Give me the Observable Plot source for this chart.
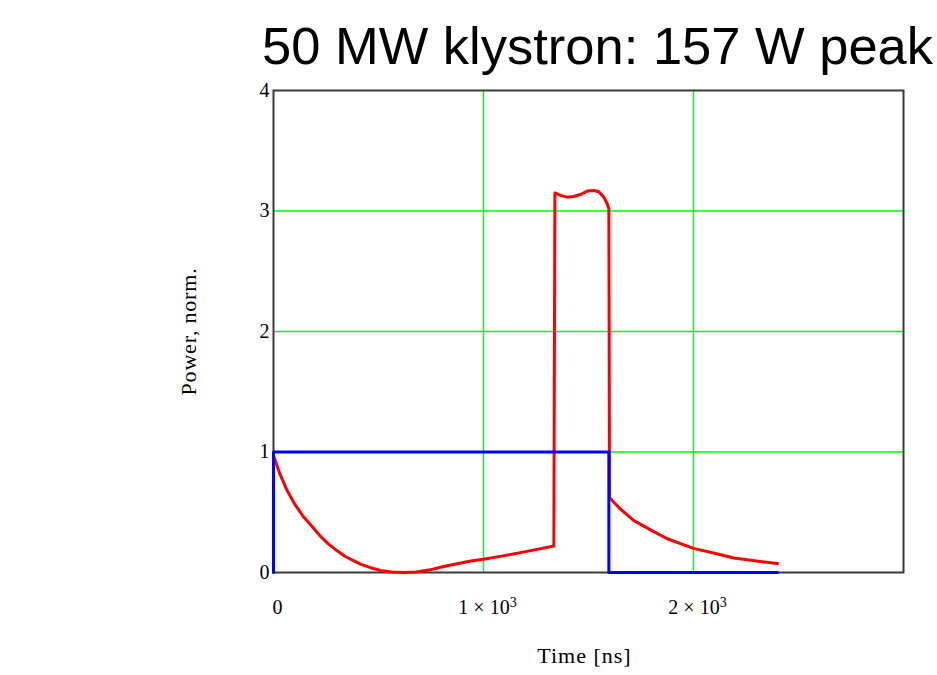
<!DOCTYPE html>
<html><head><meta charset="utf-8">
<script src="https://cdn.jsdelivr.net/npm/d3@7"></script>
<script src="https://cdn.jsdelivr.net/npm/@observablehq/plot@0.6"></script>
<style>
body{margin:0;background:#fff;width:937px;height:675px;overflow:hidden;position:relative}
#title{position:absolute;left:262px;top:20px;font-family:"Liberation Sans",Arial,sans-serif;font-size:52.5px;line-height:52px;white-space:nowrap;color:#000}
#chart{position:absolute;left:0;top:80px}
</style></head><body>
<div id="title">50 MW klystron: 157 W peak</div>
<div id="chart"></div>
<script>
// Red trace: reflected / output power (normalized)
const redTime  = [0,30,65,100,144,190,224,260,303,340,383,420,462,510,560,620,680,740,800,850,940,1000,1100,1250,1335,
                  1340,1367,1398,1430,1462,1494,1525,1549,1573,1589,1597,
                  1600,1650,1716,1800,1875,2000,2100,2192,2300,2400];
const redPower = [0.97,0.82,0.68,0.57,0.46,0.37,0.30,0.24,0.18,0.135,0.097,0.065,0.04,0.017,0.004,0,0.004,0.02,0.045,0.065,0.095,0.11,0.14,0.19,0.22,
                  3.15,3.13,3.115,3.12,3.137,3.165,3.17,3.16,3.115,3.06,3.02,
                  0.62,0.53,0.43,0.35,0.28,0.20,0.16,0.12,0.095,0.075];
// Blue trace: klystron input pulse
const blueTime  = [0,0,1597,1597,2400];
const bluePower = [0,1,1,0,0];

const xTicks = [0,1000,2000];
const xTickLabels = ["0","1×10³","2×10³"];
const yTicks = [0,1,2,3,4];
const xGrid = [1000,2000];
const yGrid = [1,2,3];
const xLabel = "Time [ns]";
const yLabel = "Power, norm.";

const red = redTime.map((t,i)=>({t, p: redPower[i]}));
const blue = blueTime.map((t,i)=>({t, p: bluePower[i]}));
const xFmt = new Map(xTicks.map((d,i)=>[d, xTickLabels[i]]));

const chart = Plot.plot({
  width: 937, height: 595,
  marginLeft: 273, marginRight: 34, marginTop: 10, marginBottom: 103,
  x: {domain: [0,3000]},
  y: {domain: [0,4]},
  style: {fontFamily: '"Liberation Serif", "Times New Roman", serif', fontSize: "20px", background: "#fff", color: "#000"},
  marks: [
    Plot.ruleX(xGrid, {stroke: "#00ff00", strokeWidth: 1.3}),
    Plot.ruleY(yGrid, {stroke: "#00ff00", strokeWidth: 1.3}),
    Plot.frame({stroke: "#3a3a3a", strokeWidth: 2}),
    Plot.line(red, {x: "t", y: "p", stroke: "#ff0000", strokeWidth: 3, strokeLinejoin: "round"}),
    Plot.line(blue, {x: "t", y: "p", stroke: "#0000ff", strokeWidth: 3}),
    Plot.axisX(xTicks, {tickSize: 0, tickPadding: 27, dx: 4, tickFormat: d => xFmt.get(d), label: null}),
    Plot.axisY(yTicks, {tickSize: 0, tickPadding: 4, tickFormat: d => String(d), label: null}),
    Plot.text([xLabel], {frameAnchor: "bottom", dy: 83, dx: -4, lineAnchor: "middle", fontSize: 22, text: d => d}),
    Plot.text([yLabel], {frameAnchor: "left", dx: -85, rotate: -90, textAnchor: "middle", fontSize: 22, text: d => d})
  ]
});
document.getElementById("chart").appendChild(chart);
d3.select(chart).selectAll("text").each(function(){
  const s = this.textContent;
  if (s === xLabel) this.setAttribute("letter-spacing", "1");
  if (s === yLabel) this.setAttribute("letter-spacing", "0.8");
  if (s.endsWith("³")) {
    const base = s.slice(0, -1).replace("×", " × ");
    const sel = d3.select(this);
    sel.text(null);
    sel.append("tspan").text(base);
    sel.append("tspan").attr("dy", "-0.45em").attr("font-size", "14px").text("3");
    sel.attr("text-anchor", "middle");
  }
});
</script>
</body></html>
